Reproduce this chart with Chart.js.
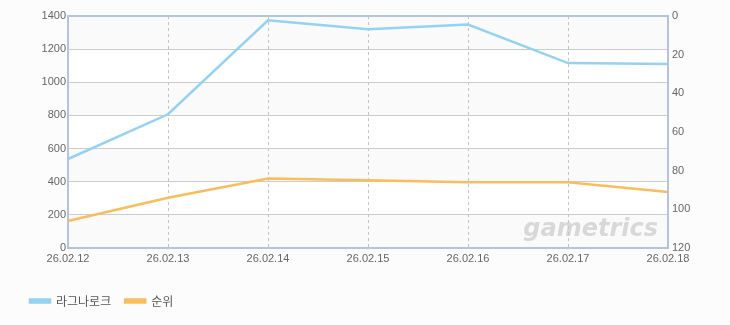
<!DOCTYPE html>
<html>
<head>
<meta charset="utf-8">
<script src="https://cdn.jsdelivr.net/npm/chart.js@4.4.1/dist/chart.umd.min.js"></script>
<style>
  html, body { margin: 0; padding: 0; background: #fcfcfc; }
  #wrap { width: 730px; height: 325px; }
</style>
</head>
<body>
<div id="wrap"><canvas id="lineChart"></canvas></div>
<script>
var dates = ["26.02.12", "26.02.13", "26.02.14", "26.02.15", "26.02.16", "26.02.17", "26.02.18"];
var ragnarok = [537, 807, 1374, 1320, 1348, 1116, 1110];
var rank = [106, 94, 84, 85, 86, 86, 91];
var leftTicks = [0, 1400, 200];
var rightTicks = [0, 120, 20];

// striped background, frame and watermark
var frame = {
  id: 'frame',
  beforeDraw: function(chart){
    var c = chart.ctx, a = chart.chartArea, y = chart.scales.y;
    c.save();
    c.fillStyle = '#ffffff';
    c.fillRect(a.left, a.top, a.right - a.left, a.bottom - a.top);
    c.fillStyle = '#fafafa';
    for(var v = leftTicks[0], i = 0; v < leftTicks[1]; v += leftTicks[2], i++){
      if(i % 2 == 0){
        var y1 = y.getPixelForValue(v), y2 = y.getPixelForValue(v + leftTicks[2]);
        c.fillRect(a.left, y2, a.right - a.left, y1 - y2);
      }
    }
    c.font = 'italic bold 24px "DejaVu Sans", sans-serif';
    c.fillStyle = '#d8d8d8';
    c.textAlign = 'right';
    c.textBaseline = 'alphabetic';
    c.fillText('gametrics', a.right - 10, a.bottom - 12);
    c.restore();
  },
  afterDraw: function(chart){
    var c = chart.ctx, a = chart.chartArea;
    c.save();
    c.strokeStyle = '#b3c5d8';
    c.lineWidth = 2;
    c.strokeRect(a.left, a.top, a.right - a.left, a.bottom - a.top);
    c.restore();
  }
};

var tickFont = { size: 11, family: '"Liberation Sans", Arial' };
var plain = function(v){ return String(v); };

var ctx = document.getElementById("lineChart").getContext('2d');
var chart = new Chart(ctx, {
  type: 'line',
  data: {
    labels: dates,
    datasets: [
      {
        label: "라그나로크",
        data: ragnarok,
        yAxisID: 'y',
        borderColor: '#93d2f2',
        backgroundColor: '#93d2f2',
        borderWidth: 2.5,
        pointRadius: 0,
        tension: 0
      },
      {
        label: "순위",
        data: rank,
        yAxisID: 'y1',
        borderColor: '#fbbd5c',
        backgroundColor: '#fbbd5c',
        borderWidth: 2.5,
        pointRadius: 0,
        tension: 0
      }
    ]
  },
  options: {
    responsive: true,
    maintainAspectRatio: false,
    animation: false,
    layout: { padding: { left: 16, top: 16, right: 0, bottom: 8 } },
    plugins: {
      tooltip: { enabled: false },
      legend: {
        position: 'bottom',
        align: 'start',
        labels: {
          boxWidth: 20,
          boxHeight: 3,
          padding: 14,
          color: '#555',
          font: { size: 12, family: '"Noto Sans CJK KR", sans-serif' }
        }
      }
    },
    scales: {
      x: {
        offset: false,
        grid: { color: '#c4c4c4', drawTicks: false, lineWidth: 1 },
        border: { display: false, dash: [3, 3] },
        ticks: { color: '#666', padding: 4, maxRotation: 0, font: tickFont },
        afterFit: function(s){ s.height = 33; }
      },
      y: {
        position: 'left',
        min: leftTicks[0], max: leftTicks[1],
        ticks: { stepSize: leftTicks[2], color: '#666', padding: 2, font: tickFont, callback: plain },
        grid: { color: '#cccccc', drawTicks: false },
        border: { display: false },
        afterFit: function(s){ s.width = 52; }
      },
      y1: {
        position: 'right',
        reverse: true,
        min: rightTicks[0], max: rightTicks[1],
        ticks: { stepSize: rightTicks[2], color: '#666', padding: 4, font: tickFont, callback: plain },
        grid: { display: false, drawTicks: false },
        border: { display: false },
        afterFit: function(s){ s.width = 62; }
      }
    }
  },
  plugins: [frame]
});
</script>
</body>
</html>
